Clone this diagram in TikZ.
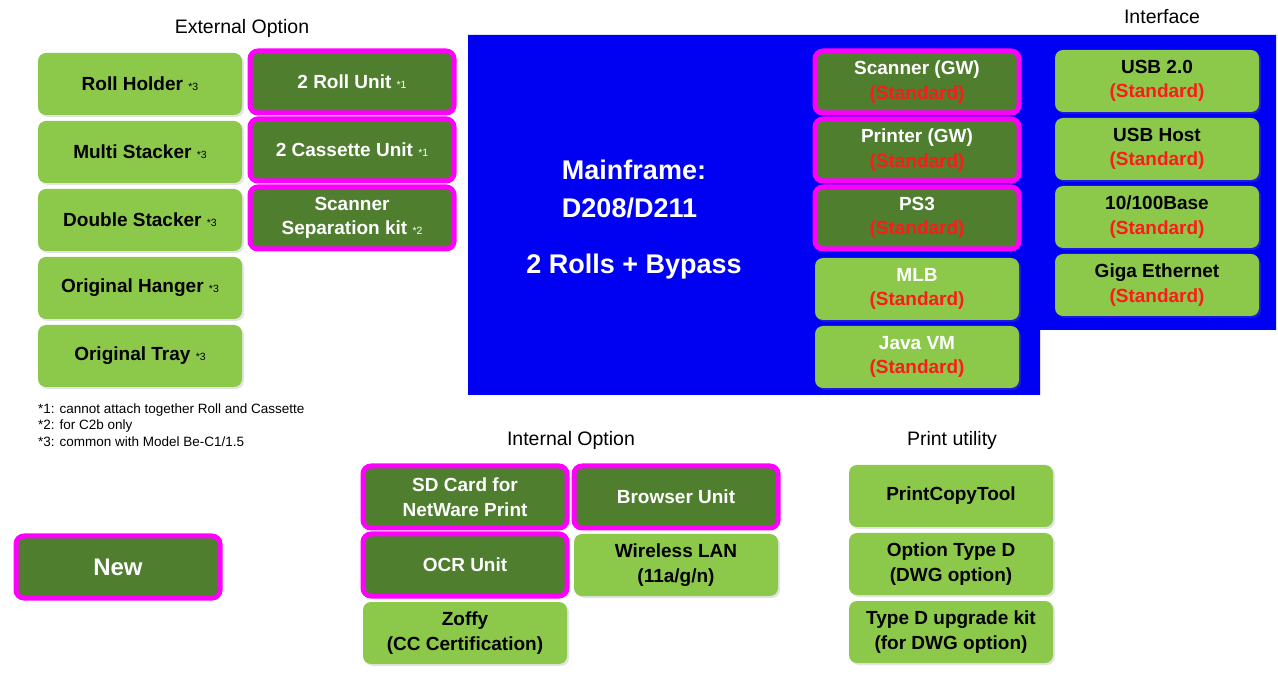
\documentclass[tikz,border=0pt]{standalone}
\usepackage{fontspec}
\setsansfont{Liberation Sans}
\usepackage{xcolor}
\definecolor{leaf}{HTML}{8CC94B}
\definecolor{moss}{HTML}{4E7E2E}
\definecolor{hot}{HTML}{FF00FF}
\definecolor{frame}{HTML}{0000F2}
\definecolor{std}{HTML}{FF1A1A}
\usepackage{tikz}
\usetikzlibrary{positioning,shadows}
\newcommand{\fnmark}[1]{{\fontsize{10.5}{10}\selectfont\mdseries *#1}}
\newcommand{\stdtag}{\textcolor{std}{(Standard)}}
\tikzset{
  x=1pt,y=-1pt,
  font=\sffamily,
  opt/.style={rounded corners=8pt,fill=leaf,minimum width=204pt,minimum height=62pt,
              outer sep=0pt,inner sep=2pt,align=center,text=black,
              font=\sffamily\bfseries\fontsize{19}{24.5}\selectfont,
              drop shadow={opacity=0.22,shadow xshift=2pt,shadow yshift=-2pt}},
  newopt/.style={opt,fill=moss,draw=hot,line width=5pt,text=white},
  lite/.style={opt,text=white},
  head/.style={font=\sffamily\fontsize{19.5}{22}\selectfont,inner sep=0pt},
  note/.style={font=\sffamily\fontsize{13.5}{16.5}\selectfont,align=left,inner sep=0pt,anchor=west},
  big/.style={font=\sffamily\bfseries\fontsize{27}{38}\selectfont,text=white,inner sep=0pt},
}

\begin{document}
\begin{tikzpicture}
  \useasboundingbox (0,0) rectangle (1278,692);
  \fill[frame] (468,35) -- (1276,35) -- (1276,330) -- (1040,330) -- (1040,395) -- (468,395) -- cycle;

  \node[head] (exthd) at (242,28) {External Option};
  \node[opt] (rh) at (140,84) {Roll Holder \fnmark{3}};
  \node[opt,below=6pt of rh] (ms) {Multi Stacker \fnmark{3}};
  \node[opt,below=6pt of ms] (dst) {Double Stacker \fnmark{3}};
  \node[opt,below=6pt of dst] (oh) {Original Hanger \fnmark{3}};
  \node[opt,below=6pt of oh] (ot) {Original Tray \fnmark{3}};
  \node[newopt] (ru) at (352,82) {2 Roll Unit \fnmark{1}};
  \node[newopt,below=6pt of ru] (cu) {2 Cassette Unit \fnmark{1}};
  \node[newopt,below=6pt of cu] (sep) {Scanner\\Separation kit \fnmark{2}};
  \node[note] (notes) at (38,425) {*1: cannot attach together Roll and Cassette\\*2: for C2b only\\*3: common with Model Be-C1/1.5};

  \node[big,align=left] (mf) at (634,189) {Mainframe:\\D208/D211};
  \node[big,below=35pt of mf] (rolls) {2 Rolls + Bypass};

  \node[newopt] (scn) at (917,82) {Scanner (GW)\\\stdtag};
  \node[newopt,below=6pt of scn] (prn) {Printer (GW)\\\stdtag};
  \node[newopt,below=6pt of prn] (ps) {PS3\\\stdtag};
  \node[lite,below=9pt of ps] (mlb) {MLB\\\stdtag};
  \node[lite,below=6pt of mlb] (jvm) {Java VM\\\stdtag};

  \node[head] (ifhd) at (1162,17) {Interface};
  \node[opt] (usb) at (1157,81) {USB 2.0\\\stdtag};
  \node[opt,below=6pt of usb] (host) {USB Host\\\stdtag};
  \node[opt,below=6pt of host] (base) {10/100Base\\\stdtag};
  \node[opt,below=6pt of base] (giga) {Giga Ethernet\\\stdtag};

  \node[head] (inhd) at (571,440) {Internal Option};
  \node[newopt] (sd) at (465,497) {SD Card for\\NetWare Print};
  \node[newopt,right=7pt of sd] (brw) {Browser Unit};
  \node[newopt,below=6pt of sd] (ocr) {OCR Unit};
  \node[opt,below=6pt of brw] (wlan) {Wireless LAN\\(11a/g/n)};
  \node[opt,below=6pt of ocr] (zof) {Zoffy\\(CC Certification)};

  \node[head] (puhd) at (952,440) {Print utility};
  \node[opt] (pct) at (951,496) {PrintCopyTool};
  \node[opt,below=6pt of pct] (otd) {Option Type D\\(DWG option)};
  \node[opt,below=6pt of otd] (upg) {Type D upgrade kit\\(for DWG option)};

  \node[newopt,font=\sffamily\bfseries\fontsize{24}{26}\selectfont] (new) at (118,567) {New};
\end{tikzpicture}
\end{document}
